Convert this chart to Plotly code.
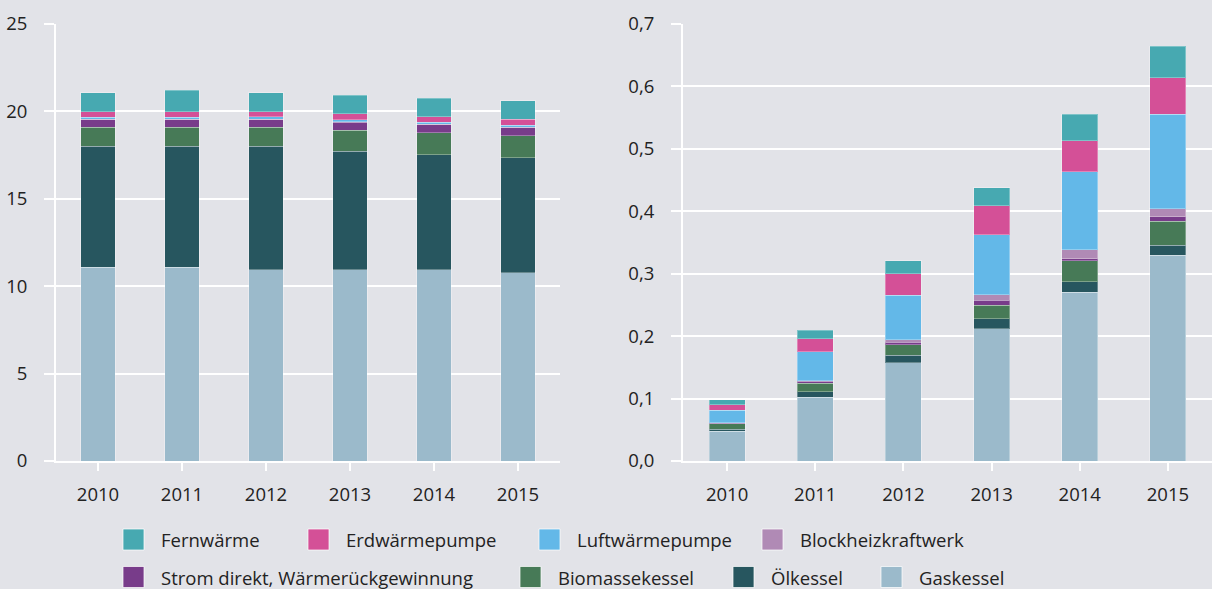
import plotly.graph_objects as go

years = ["2010", "2011", "2012", "2013", "2014", "2015"]

series_names = ["Gaskessel", "Ölkessel", "Biomassekessel", "Strom direkt, Wärmerückgewinnung",
                "Blockheizkraftwerk", "Luftwärmepumpe", "Erdwärmepumpe", "Fernwärme"]

# Left chart values
left_gas = [11.08, 11.08, 10.93, 10.93, 10.93, 10.77]
left_oel = [6.92, 6.92, 7.08, 6.79, 6.60, 6.58]
left_bio = [1.09, 1.09, 1.09, 1.20, 1.24, 1.26]
left_strom = [0.43, 0.43, 0.43, 0.46, 0.47, 0.46]
left_bhkw = [0.03, 0.03, 0.03, 0.03, 0.03, 0.03]
left_luft = [0.12, 0.12, 0.12, 0.12, 0.12, 0.12]
left_erd = [0.30, 0.30, 0.30, 0.33, 0.30, 0.33]
left_fern = [1.09, 1.24, 1.09, 1.07, 1.07, 1.06]

# Right chart values
right_gas = [0.048, 0.1025, 0.1575, 0.2115, 0.2703, 0.3295]
right_oel = [0.0032, 0.0085, 0.0123, 0.0165, 0.0165, 0.016]
right_bio = [0.0085, 0.0135, 0.0165, 0.0215, 0.0336, 0.0385]
right_strom = [0.001, 0.0032, 0.0043, 0.008, 0.0032, 0.0069]
right_bhkw = [0.0003, 0.001, 0.0037, 0.0085, 0.0144, 0.0133]
right_luft = [0.0203, 0.0465, 0.0716, 0.0966, 0.125, 0.1512]
right_erd = [0.0085, 0.0208, 0.0341, 0.046, 0.0501, 0.0586]
right_fern = [0.0087, 0.0133, 0.0208, 0.0293, 0.0423, 0.0503]

left_tick_vals = [0, 5, 10, 15, 20, 25]
right_tick_vals = [0.0, 0.1, 0.2, 0.3, 0.4, 0.5, 0.6, 0.7]

colors = ["#9bbacb", "#27565f", "#477a57", "#783c8a", "#b08ab5", "#63b8e8", "#d45097", "#47a9b1"]

left_data = [left_gas, left_oel, left_bio, left_strom, left_bhkw, left_luft, left_erd, left_fern]
right_data = [right_gas, right_oel, right_bio, right_strom, right_bhkw, right_luft, right_erd, right_fern]

W, H = 1212, 589
BG = "#e2e3e8"
FONT = "Open Sans"
TXT = "#222222"
FS = 18.5

fig = go.Figure()
for name, col, vals in zip(series_names, colors, left_data):
    fig.add_trace(go.Bar(x=years, y=vals, name=name, marker=dict(color=col, line=dict(color="rgba(255,255,255,0.3)", width=1)),
                         width=0.41, xaxis="x", yaxis="y", showlegend=False))
for name, col, vals in zip(series_names, colors, right_data):
    fig.add_trace(go.Bar(x=years, y=vals, name=name, marker=dict(color=col, line=dict(color="rgba(255,255,255,0.3)", width=1)),
                         width=0.41, xaxis="x2", yaxis="y2", showlegend=False))

ydom = [(H - 461) / H, (H - 24) / H]
xcommon = dict(showline=True, linecolor="white", linewidth=2, ticks="outside", tickson="boundaries",
               ticklen=8, tickwidth=2, tickcolor="white", showgrid=False, zeroline=False, automargin=False,
               tickfont=dict(family=FONT, size=FS, color=TXT), ticklabelstandoff=8, fixedrange=True)
ycommon = dict(showline=True, linecolor="white", linewidth=2, ticks="outside", ticklen=10, tickwidth=2,
               tickcolor="white", showgrid=True, gridcolor="white", gridwidth=2, zeroline=False, automargin=False,
               tickfont=dict(family=FONT, size=FS, color=TXT), ticklabelstandoff=13, fixedrange=True)

fig.update_layout(
    template="none",
    width=W, height=H,
    paper_bgcolor=BG, plot_bgcolor=BG,
    margin=dict(l=0, r=0, t=0, b=0, pad=0, autoexpand=False),
    barmode="stack",
    separators=",.",
    showlegend=False,
    font=dict(family=FONT, size=FS, color=TXT),
    xaxis=dict(domain=[56 / W, 560 / W], anchor="y", **xcommon),
    yaxis=dict(domain=ydom, anchor="x", range=[0, 25], tickvals=left_tick_vals, **ycommon),
    xaxis2=dict(domain=[683 / W, 1.0], anchor="y2", **xcommon),
    yaxis2=dict(domain=ydom, anchor="x2", range=[0, 0.7], tickvals=right_tick_vals, tickformat=".1f", **ycommon),
)

# Manual legend (layout positions in pixels)
legend_order = ["Fernwärme", "Erdwärmepumpe", "Luftwärmepumpe", "Blockheizkraftwerk",
                "Strom direkt, Wärmerückgewinnung", "Biomassekessel", "Ölkessel", "Gaskessel"]
legend_x = [123, 308, 539, 762, 123, 520, 733, 881]
legend_y = [539.5, 539.5, 539.5, 539.5, 577, 577, 577, 577]
color_of = dict(zip(series_names, colors))
sw = 21
shapes = []
annotations = []
for name, lx, ly in zip(legend_order, legend_x, legend_y):
    shapes.append(dict(type="rect", xref="paper", yref="paper",
                       x0=lx / W, x1=(lx + sw) / W, y0=(H - ly - sw / 2) / H, y1=(H - ly + sw / 2) / H,
                       fillcolor=color_of[name], line=dict(color="rgba(255,255,255,0.7)", width=1)))
    annotations.append(dict(text=name, xref="paper", yref="paper", x=(lx + 36) / W, y=(H - ly) / H,
                            xanchor="left", yanchor="middle", showarrow=False,
                            font=dict(family=FONT, size=FS, color=TXT)))
fig.update_layout(shapes=shapes, annotations=annotations)

fig.write_html("out.html", config=dict(displayModeBar=False),
               post_script="document.body.style.margin='0';document.body.style.overflow='hidden';")
